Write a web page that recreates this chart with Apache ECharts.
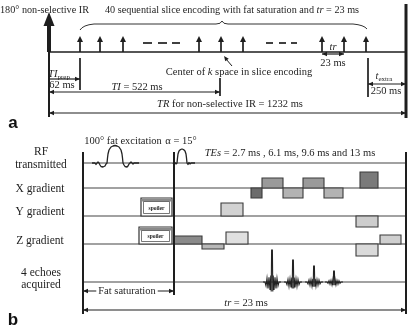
<!DOCTYPE html>
<html>
<head>
<meta charset="utf-8">
<script src="https://cdn.jsdelivr.net/npm/echarts@6/dist/echarts.min.js"></script>
<style>
  html, body { margin: 0; padding: 0; background: #fff; }
  #chart { width: 408px; height: 326px; }
</style>
</head>
<body>
<div id="chart"></div>
<script>
// schematic units: x = time along the diagram, y = row position (downwards)

// ---- panel a: inversion recovery timeline ----
const aBaseY = 52;
const irX = 49;
const endX = 406;
const sliceArrowX = [80, 100, 123, 199, 221, 243, 322, 344, 366];
const gapDashes = [[143, 152], [158, 167], [172, 180], [266, 273], [279, 286], [291, 297]];
// [x1, x2, y, headLeft, headRight]
const aDims = [
  [49, 80, 79, 0, 1],    // TI prep = 62 ms
  [49, 220, 92, 1, 1],   // TI = 522 ms
  [322, 344, 54, 1, 1],  // tr = 23 ms
  [368, 406, 84, 1, 1],  // t extra = 250 ms
  [49, 406, 113, 1, 1]   // TR = 1232 ms
];
// [x, yTop, yBottom]
const aTicks = [[80, 58, 90], [220, 78, 96], [368, 58, 97]];

// ---- panel b: one tr of the slice encoding ----
const channelNames = ['RF', 'X gradient', 'Y gradient', 'Z gradient', '4 echoes'];
const channelY = [163, 188, 216, 244, 282];
const bStart = 83;
const fatSatEnd = 174;
const bEnd = 406;
// [tStart, tEnd, amplitude]
const xLobes = [[251, 262, -10], [262, 283, 10], [283, 303, -10], [303, 324, 10], [324, 343, -10], [360, 378, 16]];
const yLobes = [[221, 243, 13], [356, 378, -11]];
const zLobes = [[174, 202, 8], [202, 224, -5], [226, 248, 12], [356, 378, -12], [380, 401, 9]];
const spoilers = [[141, 172, 18, 2], [139, 172, 17, 3]]; // [tStart, tEnd, amp, channel]
// RF pulses: [dt, amplitude] around centre
const fatPulseT = 115;
const fatPulse = [[-23, 0], [-20, 0], [-19, -1.5], [-18, 0], [-17, 1], [-16, 0], [-15, -2], [-14, -3.5], [-12, -4],
  [-10, -3], [-9, -1], [-8, 0], [-7.5, 5], [-7, 9], [-6, 13], [-4, 16], [-2, 17], [0, 17.5], [2, 17], [4, 16],
  [6, 13], [7, 9], [7.5, 5], [8, 0], [9, -2], [10, -3.5], [12, -4], [13, -3], [14, -1], [15, 0], [16, 1],
  [17, 0], [18, -1], [19, 0], [24, 0]];
const alphaPulseT = 182;
const alphaPulse = [[-9, 0], [-8, -1.5], [-7, 0.5], [-6, -1], [-5, 0], [-4.5, 5], [-4, 9], [-3, 12], [-1.5, 13.5],
  [0, 14], [1.5, 13.5], [3, 12], [4, 9], [4.5, 5], [5, 0], [6, -1.5], [7, 0.5], [8, -1], [9, 0], [13, 0]];
// echoes
const echoX = [272, 293, 314, 334];
const echoAmp = [32, 22, 16, 11];
const echoShape = [[-9, 0], [-7, 0], [-6, -0.12], [-5, 0.12], [-4, -0.2], [-3, 0.15], [-2, -0.25], [-1.2, 0.2],
  [-0.8, -0.3], [-0.4, 1], [0.4, 1], [0.8, -0.3], [1.2, 0.2], [2, -0.25], [3, 0.15], [4, -0.2], [5, 0.12],
  [6, -0.12], [7, 0], [9, 0]];

// ---- texts: [x, y, text, kind] ----
const labels = [
  [0, 10, '180° non-selective IR', 'l'],
  [232, 10, '40 sequential slice encoding with fat saturation and {i|tr} = 23 ms', 'c'],
  [59, 74, '{i|TI}{s|prep}', 'c'],
  [62, 85, '62 ms', 'c'],
  [239, 72, 'Center of {i|k} space in slice encoding', 'c'],
  [137, 87, '{i|TI} = 522 ms', 'c'],
  [333, 47, '{i|tr}', 'c'],
  [333, 63, '23 ms', 'c'],
  [384, 76, '{i|t}{s|extra}', 'c'],
  [386, 91, '250 ms', 'c'],
  [230, 104, '{i|TR} for non-selective IR = 1232 ms', 'c'],
  [123, 141, '100° fat excitation', 'c'],
  [181, 141, 'α = 15°', 'c'],
  [290, 153, '{i|TEs} = 2.7 ms , 6.1 ms, 9.6 ms and 13 ms', 'c'],
  [127, 291, 'Fat saturation', 'bg'],
  [246, 303, '{i|tr} = 23 ms', 'c']
];
// row labels of panel b
const rowLabels = [
  [41, 152, 'RF'],
  [41, 165, 'transmitted'],
  [40, 189, 'X gradient'],
  [40, 212, 'Y gradient'],
  [40, 241, 'Z gradient'],
  [41, 273, '4 echoes'],
  [41, 285, 'acquired']
];
const panelTags = [[13, 123, 'a'], [13, 320, 'b']];

const INK = '#1e1e1e';
const SERIF = '"Liberation Serif", "DejaVu Serif", serif';
const xShade = ['#6c6c6c', '#9a9a9a', '#b3b3b3', '#9a9a9a', '#b3b3b3', '#7a7a7a'];
const yShade = ['#d2d2d2', '#cdcdcd'];
const zShade = ['#8a8a8a', '#b8b8b8', '#e0e0e0', '#dadada', '#cfcfcf'];

function seg(p, q, w, color) {
  return { type: 'line', shape: { x1: p[0], y1: p[1], x2: q[0], y2: q[1] }, style: { stroke: color || INK, lineWidth: w || 1 } };
}
function head(p, dx, dy, len, half) {
  // tip at p, pointing along (dx, dy)
  const nx = -dy, ny = dx;
  return {
    type: 'polygon',
    shape: { points: [p, [p[0] - dx * len + nx * half, p[1] - dy * len + ny * half], [p[0] - dx * len - nx * half, p[1] - dy * len - ny * half]] },
    style: { fill: INK }
  };
}
function one(render) {
  return { type: 'custom', coordinateSystem: 'cartesian2d', data: [[0, 0]], silent: true, renderItem: render, clip: false };
}

const panelA = one((params, api) => {
  const c = (x, y) => api.coord([x, y]);
  const ch = [];
  ch.push(seg(c(irX, aBaseY), c(endX, aBaseY), 1.4));
  // inversion pulse
  ch.push(seg(c(irX, 117), c(irX, aBaseY), 2));
  ch.push(seg(c(irX, aBaseY), c(irX, 24), 4));
  ch.push(head(c(irX, 12), 0, -1, 14, 5.5));
  ch.push(seg(c(endX, 4), c(endX, 118), 3));
  sliceArrowX.forEach(x => {
    ch.push(seg(c(x, aBaseY), c(x, 40), 1.7));
    ch.push(head(c(x, 36), 0, -1, 6, 3));
  });
  gapDashes.forEach(d => ch.push(seg(c(d[0], 43), c(d[1], 43), 1.7)));
  // brace over the slice encodings
  const b0 = c(80, 30), b1 = c(222, 21), b2 = c(367, 29);
  ch.push({
    type: 'path',
    shape: {
      pathData: `M${b0[0]} ${b0[1]} Q${b0[0] + 3} ${b0[1] - 5} ${b0[0] + 14} ${b0[1] - 6} L${b1[0] - 6} ${b1[1] + 3} Q${b1[0] - 1} ${b1[1] + 3} ${b1[0]} ${b1[1]} ` +
        `Q${b1[0] + 1} ${b1[1] + 3} ${b1[0] + 6} ${b1[1] + 3} L${b2[0] - 14} ${b2[1] - 5} Q${b2[0] - 3} ${b2[1] - 4} ${b2[0]} ${b2[1]}`
    },
    style: { stroke: '#333', lineWidth: 1, fill: null }
  });
  // pointer to centre of k space
  ch.push(seg(c(232, 66), c(226, 59), 1));
  ch.push(head(c(224, 56), -0.6, -0.8, 5, 2.2));
  aTicks.forEach(t => ch.push(seg(c(t[0], t[1]), c(t[0], t[2]), 1.7)));
  aDims.forEach(d => {
    const p = c(d[0], d[2]), q = c(d[1], d[2]);
    ch.push(seg(p, q, 1.2));
    if (d[3]) ch.push(head(p, -1, 0, 5, 2.2));
    if (d[4]) ch.push(head(q, 1, 0, 5, 2.2));
  });
  return { type: 'group', children: ch };
});

function lobe(c, base, l, color) {
  const p = c(l[0], base - l[2]), q = c(l[1], base);
  return {
    type: 'rect',
    shape: { x: Math.min(p[0], q[0]), y: Math.min(p[1], q[1]), width: Math.abs(q[0] - p[0]), height: Math.abs(q[1] - p[1]) },
    style: { fill: color, stroke: '#3a3a3a', lineWidth: 1.1 }
  };
}

const panelB = one((params, api) => {
  const c = (x, y) => api.coord([x, y]);
  const ch = [];
  channelY.forEach(y => ch.push(seg(c(bStart, y), c(bEnd, y), 1.1, '#444')));
  xLobes.forEach((l, i) => ch.push(lobe(c, channelY[1], l, xShade[i])));
  yLobes.forEach((l, i) => ch.push(lobe(c, channelY[2], l, yShade[i])));
  zLobes.forEach((l, i) => ch.push(lobe(c, channelY[3], l, zShade[i])));
  spoilers.forEach(s => {
    const base = channelY[s[3]];
    const p = c(s[0], base - s[2]), q = c(s[1], base);
    ch.push({ type: 'rect', shape: { x: p[0], y: p[1], width: q[0] - p[0], height: q[1] - p[1] }, style: { fill: '#fff', stroke: '#333', lineWidth: 1.2 } });
    ch.push({ type: 'rect', shape: { x: p[0] + 1, y: p[1] + 1, width: q[0] - p[0] - 2, height: 2.5 }, style: { fill: '#8a8a8a' } });
    ch.push({ type: 'rect', shape: { x: p[0] + 2.5, y: p[1] + 3.5, width: q[0] - p[0] - 5, height: q[1] - p[1] - 6 }, style: { fill: null, stroke: '#555', lineWidth: 0.8 } });
    ch.push({
      type: 'text',
      style: { x: (p[0] + q[0]) / 2, y: (p[1] + q[1]) / 2 + 1.5, text: 'spoiler', fill: '#222', font: 'bold 5.5px ' + SERIF, align: 'center', verticalAlign: 'middle' }
    });
  });
  // RF pulses
  [[fatPulseT, fatPulse], [alphaPulseT, alphaPulse]].forEach(([t0, shape]) => {
    ch.push({
      type: 'polyline',
      shape: { points: shape.map(p => c(t0 + p[0], channelY[0] - p[1])) },
      style: { stroke: '#222', lineWidth: 1.3, fill: null, lineJoin: 'round' }
    });
  });
  // echoes
  echoX.forEach((x, i) => {
    ch.push({
      type: 'polyline',
      shape: { points: echoShape.map(p => c(x + p[0], channelY[4] - p[1] * echoAmp[i])) },
      style: { stroke: '#222', lineWidth: 1.1, fill: null }
    });
  });
  // timing frame
  ch.push(seg(c(bStart, 152), c(bStart, 314), 2));
  ch.push(seg(c(fatSatEnd, 152), c(fatSatEnd, 295), 2));
  ch.push(seg(c(bEnd, 152), c(bEnd, 314), 2));
  [[bStart, fatSatEnd, 291], [bStart, bEnd, 310]].forEach(d => {
    const p = c(d[0], d[2]), q = c(d[1], d[2]);
    ch.push(seg(p, q, 1.2));
    ch.push(head(p, -1, 0, 5, 2.2));
    ch.push(head(q, 1, 0, 5, 2.2));
  });
  return { type: 'group', children: ch };
});

const rich = {
  i: { fontStyle: 'italic', fontSize: 10.5, fontFamily: 'Liberation Serif' },
  s: { fontSize: 7, fontFamily: 'Liberation Serif', padding: [6, 0, 0, 0] }
};

const textLayer = one((params, api) => {
  const ch = [];
  labels.forEach(t => {
    const p = api.coord([t[0], t[1]]);
    ch.push({
      type: 'text',
      z2: 10,
      style: {
        x: p[0], y: p[1], text: t[2], fill: INK,
        font: (t[1] < 20 ? '10.2px ' : '10.5px ') + SERIF,
        align: t[3] === 'l' ? 'left' : 'center', verticalAlign: 'middle',
        backgroundColor: t[3] === 'bg' ? '#fff' : null,
        padding: t[3] === 'bg' ? [0, 2] : 0,
        rich
      }
    });
  });
  rowLabels.forEach(t => {
    const p = api.coord([t[0], t[1]]);
    ch.push({ type: 'text', style: { x: p[0], y: p[1], text: t[2], fill: INK, font: '11.5px ' + SERIF, align: 'center', verticalAlign: 'middle' } });
  });
  panelTags.forEach(t => {
    const p = api.coord([t[0], t[1]]);
    ch.push({ type: 'text', style: { x: p[0], y: p[1], text: t[2], fill: '#111', font: 'bold 17px "Liberation Sans", sans-serif', align: 'center', verticalAlign: 'middle' } });
  });
  return { type: 'group', children: ch };
});

const chart = echarts.init(document.getElementById('chart'));
chart.setOption({
  animation: false,
  backgroundColor: '#fff',
  grid: { left: 0, right: 0, top: 0, bottom: 0 },
  xAxis: { type: 'value', min: 0, max: 408, show: false },
  yAxis: { type: 'value', min: 0, max: 326, inverse: true, show: false },
  series: [panelA, panelB, textLayer]
});
</script>
</body>
</html>
